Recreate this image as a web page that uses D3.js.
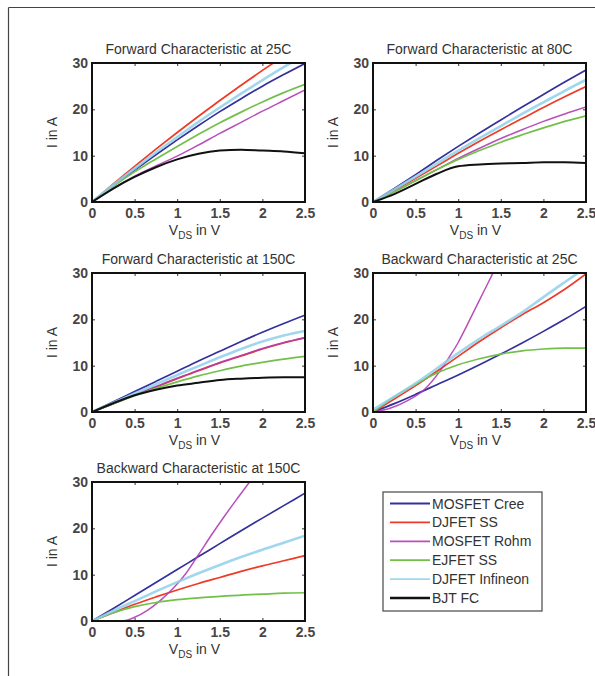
<!DOCTYPE html>
<html>
<head>
<meta charset="utf-8">
<script src="https://cdn.jsdelivr.net/npm/d3@7"></script>
<style>
  html, body { margin: 0; padding: 0; background: #fff; }
  svg { display: block; }
  text { font-family: "Liberation Sans", Arial, sans-serif; }
</style>
</head>
<body>
<svg id="chart" width="595" height="676"></svg>
<script>
// ---- data: drain-source voltage grid (V) and currents (A) per device ----
const vds = [0, 0.25, 0.5, 0.75, 1, 1.25, 1.5, 1.75, 2, 2.25, 2.5];
const xTicks = [0, 0.5, 1, 1.5, 2, 2.5];
const yTicks = [0, 10, 20, 30];

const devices = ["MOSFET Cree", "DJFET SS", "MOSFET Rohm", "EJFET SS", "DJFET Infineon", "BJT FC"];
const deviceColors = ["#34309c", "#ee3a26", "#b03cb4", "#72c04a", "#8fd0ea", "#111111"];

// Forward characteristic at 25C
const fwd25Cree     = [0, 3.5, 6.9, 10.2, 13.4, 16.5, 19.5, 22.3, 25.0, 27.5, 29.9];
const fwd25DjfetSS  = [0, 3.9, 7.7, 11.4, 15.0, 18.5, 21.9, 25.2, 28.4, 31.5, 34.5];
const fwd25Rohm     = [0, 3.0, 5.6, 7.8, 9.9, 12.3, 14.8, 17.2, 19.6, 21.9, 24.2];
const fwd25EjfetSS  = [0, 3.4, 6.5, 9.3, 12.0, 14.6, 17.1, 19.4, 21.6, 23.6, 25.4];
const fwd25Infineon = [0, 3.7, 7.2, 10.7, 14.0, 17.3, 20.4, 23.4, 26.3, 29.1, 31.7];
const fwd25Bjt      = [0, 2.9, 5.4, 7.5, 9.2, 10.4, 11.1, 11.3, 11.1, 10.9, 10.5];

// Forward characteristic at 80C
const fwd80Cree     = [0, 2.9, 5.9, 9.0, 12.0, 14.9, 17.7, 20.5, 23.2, 25.9, 28.5];
const fwd80DjfetSS  = [0, 2.5, 5.1, 7.8, 10.5, 13.1, 15.6, 18.0, 20.4, 22.7, 24.9];
const fwd80Rohm     = [0, 2.2, 4.6, 7.0, 9.4, 11.6, 13.7, 15.6, 17.4, 19.0, 20.5];
const fwd80EjfetSS  = [0, 2.2, 4.6, 7.0, 9.2, 11.1, 12.9, 14.5, 16.0, 17.4, 18.6];
const fwd80Infineon = [0, 2.7, 5.5, 8.3, 11.1, 13.8, 16.4, 19.0, 21.5, 24.0, 26.4];
const fwd80Bjt      = [0, 1.7, 3.9, 6.1, 7.7, 8.1, 8.3, 8.4, 8.6, 8.6, 8.4];

// Forward characteristic at 150C
const fwd150Cree     = [0, 2.2, 4.4, 6.6, 8.8, 11.0, 13.1, 15.2, 17.2, 19.1, 20.9];
const fwd150DjfetSS  = [0, 1.8, 3.6, 5.4, 7.2, 8.9, 10.6, 12.1, 13.6, 14.9, 16.0];
const fwd150Rohm     = [0, 1.8, 3.7, 5.5, 7.3, 9.0, 10.7, 12.2, 13.7, 15.0, 16.1];
const fwd150EjfetSS  = [0, 1.8, 3.5, 5.1, 6.5, 7.8, 8.9, 9.9, 10.7, 11.4, 12.0];
const fwd150Infineon = [0, 2.0, 4.0, 6.0, 8.0, 9.9, 11.8, 13.6, 15.2, 16.5, 17.5];
const fwd150Bjt      = [0, 1.9, 3.6, 4.8, 5.7, 6.3, 6.9, 7.2, 7.4, 7.5, 7.5];

// Backward characteristic at 25C (MOSFET Rohm on its own voltage grid)
const bwd25Cree     = [0, 1.8, 3.8, 5.9, 8.0, 10.2, 12.5, 14.9, 17.4, 20.0, 22.8];
const bwd25DjfetSS  = [0, 2.8, 5.7, 8.8, 12.0, 15.2, 18.2, 21.0, 23.6, 26.5, 29.8];
const bwd25RohmV    = [0, 0.2, 0.4, 0.6, 0.8, 0.9, 1.0, 1.1, 1.2, 1.3, 1.4, 1.5];
const bwd25Rohm     = [0, 0.8, 2.4, 4.8, 9.2, 12.0, 15.0, 18.6, 22.3, 26.0, 29.7, 33.4];
const bwd25EjfetSS  = [0, 3.3, 6.0, 8.4, 10.2, 11.5, 12.5, 13.2, 13.6, 13.8, 13.8];
const bwd25Infineon = [0.5, 3.3, 6.2, 9.4, 12.7, 15.8, 18.6, 21.5, 24.8, 28.0, 31.2];

// Backward characteristic at 150C
const bwd150Cree     = [0, 2.7, 5.5, 8.3, 11.1, 13.9, 16.7, 19.5, 22.2, 24.9, 27.6];
const bwd150DjfetSS  = [0, 1.8, 3.6, 5.2, 6.7, 8.1, 9.4, 10.7, 11.9, 13.0, 14.1];
const bwd150RohmV    = [0, 0.35, 0.5, 0.65, 0.8, 0.95, 1.1, 1.25, 1.4, 1.55, 1.7, 1.85, 2.0];
const bwd150Rohm     = [0, 0, 0.8, 2.3, 4.4, 7.0, 10.2, 14.3, 18.5, 22.5, 26.3, 30.0, 33.5];
const bwd150EjfetSS  = [0, 1.8, 3.1, 4.0, 4.6, 5.0, 5.3, 5.6, 5.8, 6.0, 6.1];
const bwd150Infineon = [0, 2.2, 4.3, 6.4, 8.4, 10.3, 12.1, 13.8, 15.4, 16.9, 18.4];

const titles = [
  "Forward Characteristic at 25C",
  "Forward Characteristic at 80C",
  "Forward Characteristic at 150C",
  "Backward Characteristic at 25C",
  "Backward Characteristic at 150C"
];

// ---- panel assembly ----
const pair = (xs, ys) => xs.map((v, i) => [v, ys[i]]);
const panelSeries = [
  [pair(vds, fwd25Cree), pair(vds, fwd25DjfetSS), pair(vds, fwd25Rohm), pair(vds, fwd25EjfetSS), pair(vds, fwd25Infineon), pair(vds, fwd25Bjt)],
  [pair(vds, fwd80Cree), pair(vds, fwd80DjfetSS), pair(vds, fwd80Rohm), pair(vds, fwd80EjfetSS), pair(vds, fwd80Infineon), pair(vds, fwd80Bjt)],
  [pair(vds, fwd150Cree), pair(vds, fwd150DjfetSS), pair(vds, fwd150Rohm), pair(vds, fwd150EjfetSS), pair(vds, fwd150Infineon), pair(vds, fwd150Bjt)],
  [pair(vds, bwd25Cree), pair(vds, bwd25DjfetSS), pair(bwd25RohmV, bwd25Rohm), pair(vds, bwd25EjfetSS), pair(vds, bwd25Infineon), null],
  [pair(vds, bwd150Cree), pair(vds, bwd150DjfetSS), pair(bwd150RohmV, bwd150Rohm), pair(vds, bwd150EjfetSS), pair(vds, bwd150Infineon), null]
];

const layout = [
  { left: 92,  top: 63 },
  { left: 373, top: 63 },
  { left: 92,  top: 273 },
  { left: 373, top: 273 },
  { left: 92,  top: 482 }
];
const plotW = 213, plotH = 139;

const lineWidths = [1.7, 1.7, 1.5, 1.7, 2.6, 2.0];
const lineOpacity = [1, 1, 0.9, 1, 0.85, 1];

const svg = d3.select("#chart");

// page frame
svg.append("line").attr("x1", 8.5).attr("y1", 7.5).attr("x2", 595).attr("y2", 7.5)
  .attr("stroke", "#444").attr("stroke-width", 1.2);
svg.append("line").attr("x1", 8.5).attr("y1", 7.5).attr("x2", 8.5).attr("y2", 676)
  .attr("stroke", "#444").attr("stroke-width", 1.2);

const x = d3.scaleLinear().domain([0, 2.5]).range([0, plotW]);
const y = d3.scaleLinear().domain([0, 30]).range([plotH, 0]);
const line = d3.line()
  .defined(d => d[1] != null)
  .x(d => x(d[0])).y(d => y(d[1]))
  .curve(d3.curveMonotoneX);

const tickFmt = d => d3.format("~g")(d);

panelSeries.forEach((series, p) => {
  const g = svg.append("g").attr("transform", `translate(${layout[p].left},${layout[p].top})`);

  g.append("clipPath").attr("id", "clip" + p)
    .append("rect").attr("width", plotW).attr("height", plotH);

  const curves = g.append("g").attr("clip-path", `url(#clip${p})`);
  series.forEach((s, i) => {
    if (!s) return;
    curves.append("path").datum(s)
      .attr("d", line)
      .attr("fill", "none")
      .attr("stroke", deviceColors[i])
      .attr("stroke-width", lineWidths[i])
      .attr("stroke-opacity", lineOpacity[i])
      .attr("stroke-linejoin", "round");
  });

  // axes: inward ticks on all sides
  const styleAxis = sel => {
    sel.select(".domain").remove();
    sel.selectAll(".tick line").attr("stroke", "#333").attr("stroke-width", 1);
    sel.selectAll(".tick text")
      .attr("fill", "#4a4444").attr("font-size", 14).attr("font-weight", "bold");
  };
  g.append("g").attr("transform", `translate(0,${plotH})`)
    .call(d3.axisBottom(x).tickValues(xTicks).tickFormat(tickFmt).tickSizeInner(-3).tickSizeOuter(0).tickPadding(6))
    .call(styleAxis);
  g.append("g")
    .call(d3.axisLeft(y).tickValues(yTicks).tickFormat(tickFmt).tickSizeInner(-3).tickSizeOuter(0).tickPadding(4))
    .call(styleAxis);
  g.append("g")
    .call(d3.axisTop(x).tickValues(xTicks).tickFormat("").tickSizeInner(-3).tickSizeOuter(0))
    .call(styleAxis);
  g.append("g").attr("transform", `translate(${plotW},0)`)
    .call(d3.axisRight(y).tickValues(yTicks).tickFormat("").tickSizeInner(-3).tickSizeOuter(0))
    .call(styleAxis);

  g.selectAll(".tick text").attr("font-family", "'Liberation Sans', Arial, sans-serif");

  // box
  g.append("rect").attr("width", plotW).attr("height", plotH)
    .attr("fill", "none").attr("stroke", "#111").attr("stroke-width", 2);

  // title
  g.append("text").attr("x", plotW / 2).attr("y", -9)
    .attr("text-anchor", "middle").attr("font-size", 14).attr("fill", "#333")
    .text(titles[p]);

  // x label
  const xl = g.append("text").attr("x", plotW / 2 - 4).attr("y", plotH + 33)
    .attr("text-anchor", "middle").attr("font-size", 14).attr("fill", "#333");
  xl.append("tspan").text("V");
  xl.append("tspan").attr("font-size", 10).attr("dy", 4).text("DS");
  xl.append("tspan").attr("dy", -4).text(" in V");

  // y label
  g.append("text")
    .attr("transform", `translate(-35,${plotH / 2}) rotate(-90)`)
    .attr("text-anchor", "middle").attr("font-size", 14).attr("fill", "#333")
    .text("I in A");
});

// legend
const lg = svg.append("g").attr("transform", "translate(383,492)");
lg.append("rect").attr("width", 159).attr("height", 119)
  .attr("fill", "#fff").attr("stroke", "#555").attr("stroke-width", 1.3);
devices.forEach((name, i) => {
  const cy = 11.5 + i * 18.9;
  lg.append("line").attr("x1", 7).attr("x2", 47).attr("y1", cy).attr("y2", cy)
    .attr("stroke", deviceColors[i]).attr("stroke-width", i === 5 ? 2.6 : 1.8)
    .attr("stroke-opacity", lineOpacity[i]);
  lg.append("text").attr("x", 49).attr("y", cy + 5)
    .attr("font-size", 14).attr("fill", "#333").text(name);
});
</script>
</body>
</html>
